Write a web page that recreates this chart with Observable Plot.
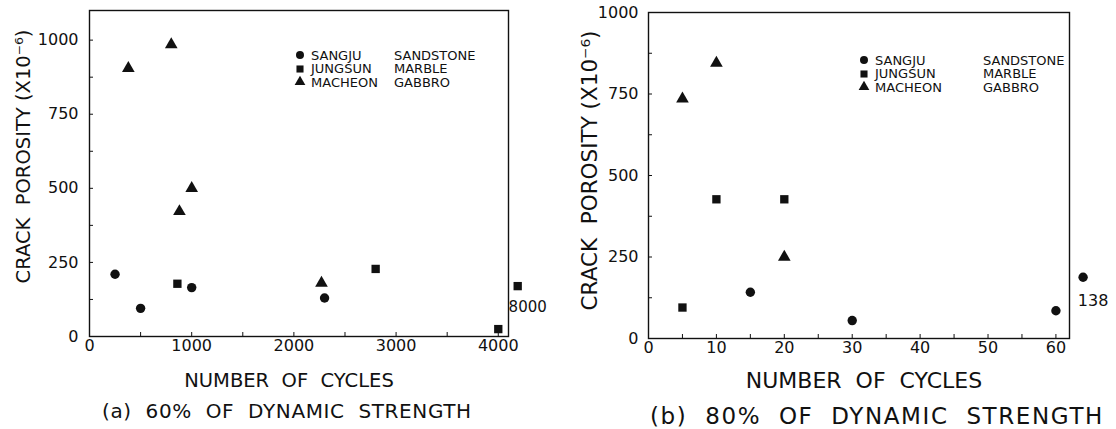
<!DOCTYPE html>
<html><head><meta charset="utf-8">
<script src="https://cdn.jsdelivr.net/npm/d3@7"></script>
<script src="https://cdn.jsdelivr.net/npm/@observablehq/plot@0.6"></script>
<style>
body{margin:0;background:#fff;}
#wrap{position:relative;width:1116px;height:429px;overflow:hidden;font-family:"DejaVu Sans",sans-serif;color:#111;background:#fff;}
.panel{position:absolute;top:0;}
.caption{position:absolute;white-space:pre;}
.legend{position:absolute;white-space:pre;}
.legend .row{position:absolute;left:0;}
.legend .row span{position:absolute;top:0;}
.legend svg{position:absolute;overflow:visible;}
</style></head><body><div id="wrap"></div>
<script>
// ---- series ----
const seriesNames = ["SANGJU SANDSTONE", "JUNGSUN MARBLE", "MACHEON GABBRO"];
const seriesFirst = ["SANGJU", "JUNGSUN", "MACHEON"];
const seriesSecond = ["SANDSTONE", "MARBLE", "GABBRO"];
const seriesSymbols = ["circle", "square", "triangle"];

// ---- panel (a): 60% of dynamic strength ----
const aSandstoneCycles = [250, 500, 1000, 2300];
const aSandstonePorosity = [210, 95, 165, 130];
const aMarbleCycles = [860, 2800, 4000];
const aMarblePorosity = [178, 228, 25];
const aGabbroCycles = [380, 800, 880, 1000, 2270];
const aGabbroPorosity = [905, 985, 422, 500, 180];
// value beyond the axis break (8000 cycles), drawn just past the frame
const aBreakSeries = "JUNGSUN MARBLE";
const aBreakLabel = "8000";
const aBreakPosition = 4190;
const aBreakPorosity = 170;
const aXDomain = [0, 4100];
const aYDomain = [0, 1100];
const aXTicks = [0, 500, 1000, 1500, 2000, 2500, 3000, 3500, 4000];
const aXLabels = [0, 1000, 2000, 3000, 4000];
const aYTicks = [0, 125, 250, 375, 500, 625, 750, 875, 1000];
const aYLabels = [0, 250, 500, 750, 1000];
const aCaption = "(a)  60%  OF  DYNAMIC  STRENGTH";

// ---- panel (b): 80% of dynamic strength ----
const bSandstoneCycles = [15, 30, 60];
const bSandstonePorosity = [142, 55, 85];
const bMarbleCycles = [5, 10, 20];
const bMarblePorosity = [95, 427, 427];
const bGabbroCycles = [5, 10, 20];
const bGabbroPorosity = [735, 845, 250];
const bBreakSeries = "SANGJU SANDSTONE";
const bBreakLabel = "138";
const bBreakPosition = 64;
const bBreakPorosity = 188;
const bXDomain = [0, 62];
const bYDomain = [0, 1000];
const bXTicks = [0, 5, 10, 15, 20, 25, 30, 35, 40, 45, 50, 55, 60];
const bXLabels = [0, 10, 20, 30, 40, 50, 60];
const bYTicks = [0, 125, 250, 375, 500, 625, 750, 875, 1000];
const bYLabels = [0, 250, 500, 750, 1000];
const bCaption = "(b)  80%  OF  DYNAMIC  STRENGTH";

const xLabel = "NUMBER  OF  CYCLES";
const yLabel = "CRACK  POROSITY (X10⁻⁶)";

function rows(series, cycles, porosity) {
  return cycles.map((c, i) => ({series, cycles: c, porosity: porosity[i]}));
}

const ink = "#111";
const font = "DejaVu Sans";

function panel(cfg) {
  const data = [
    ...rows(seriesNames[0], cfg.sc, cfg.sp),
    ...rows(seriesNames[1], cfg.mc, cfg.mp),
    ...rows(seriesNames[2], cfg.gc, cfg.gp)
  ];
  const brk = [{series: cfg.breakSeries, cycles: cfg.breakPosition, porosity: cfg.breakPorosity, label: cfg.breakLabel}];
  const fmt = d => String(d);
  return Plot.plot({
    width: 558, height: 395,
    marginLeft: cfg.ml, marginRight: cfg.mr, marginTop: cfg.mt, marginBottom: cfg.mb,
    x: {domain: cfg.xDomain},
    y: {domain: cfg.yDomain},
    symbol: {domain: seriesNames, range: seriesSymbols},
    style: {fontFamily: font, fontSize: "16px", color: ink, background: "white", overflow: "visible"},
    marks: [
      Plot.frame({stroke: ink, strokeWidth: 1.4}),
      Plot.axisX(cfg.xTicks, {tickSize: -4, fill: "none", label: null, stroke: ink}),
      Plot.axisX(cfg.xLabels, {tickSize: 0, tickPadding: 3, label: null, fontSize: 16, fill: ink, tickFormat: fmt}),
      Plot.axisY(cfg.yTicks, {tickSize: -4, fill: "none", label: null, stroke: ink}),
      Plot.axisY(cfg.yLabels, {tickSize: 0, tickPadding: cfg.ypad, label: null, fontSize: 16, fill: ink, tickFormat: fmt}),
      Plot.dot(data, {x: "cycles", y: "porosity", symbol: "series", fill: ink, stroke: "none", r: 4.7}),
      Plot.dot(brk, {x: "cycles", y: "porosity", symbol: "series", fill: ink, stroke: "none", r: 4.7}),
      Plot.text(brk, {x: "cycles", y: "porosity", text: "label", dx: cfg.brkDx, dy: cfg.brkDy, fontSize: cfg.brkFont, fill: ink}),
      Plot.text([xLabel], {frameAnchor: "bottom", textAnchor: "middle", lineAnchor: "middle", dx: cfg.xlabDx, dy: cfg.xlabDy, fontSize: cfg.xlabFont, fill: ink}),
      Plot.text([yLabel], {frameAnchor: "left", textAnchor: "middle", lineAnchor: "middle", rotate: -90, dx: cfg.ylabDx, dy: cfg.ylabDy, fontSize: cfg.ylabFont, fill: ink})
    ]
  });
}

const wrap = document.getElementById("wrap");

const left = panel({
  sc: aSandstoneCycles, sp: aSandstonePorosity, mc: aMarbleCycles, mp: aMarblePorosity,
  gc: aGabbroCycles, gp: aGabbroPorosity,
  breakSeries: aBreakSeries, breakLabel: aBreakLabel, breakPosition: aBreakPosition, breakPorosity: aBreakPorosity,
  xDomain: aXDomain, yDomain: aYDomain, xTicks: aXTicks, xLabels: aXLabels, yTicks: aYTicks, yLabels: aYLabels,
  ml: 89, mr: 50, mt: 10, mb: 59, ypad: 11,
  brkDx: 10, brkDy: 21, brkFont: 15,
  xlabDx: -10, xlabDy: 44, xlabFont: 19.5,
  ylabDx: -66, ylabDy: -17, ylabFont: 19.5
});
left.classList.add("panel"); left.style.left = "0px";
wrap.appendChild(left);

const right = panel({
  sc: bSandstoneCycles, sp: bSandstonePorosity, mc: bMarbleCycles, mp: bMarblePorosity,
  gc: bGabbroCycles, gp: bGabbroPorosity,
  breakSeries: bBreakSeries, breakLabel: bBreakLabel, breakPosition: bBreakPosition, breakPorosity: bBreakPorosity,
  xDomain: bXDomain, yDomain: bYDomain, xTicks: bXTicks, xLabels: bXLabels, yTicks: bYTicks, yLabels: bYLabels,
  ml: 90, mr: 47, mt: 12, mb: 57, ypad: 10,
  brkDx: 10, brkDy: 24, brkFont: 16,
  xlabDx: 5, xlabDy: 42, xlabFont: 22,
  ylabDx: -58, ylabDy: -5, ylabFont: 21.5
});
right.classList.add("panel"); right.style.left = "558px";
wrap.appendChild(right);

// captions
function caption(text, x, yCenter, size, spacing) {
  const d = document.createElement("div");
  d.className = "caption"; d.textContent = text;
  d.style.fontSize = size + "px"; d.style.lineHeight = size + "px";
  d.style.letterSpacing = spacing + "px";
  d.style.left = x + "px"; d.style.top = (yCenter - size / 2) + "px";
  wrap.appendChild(d);
}
caption(aCaption, 102, 411, 20, 0.6);
caption(bCaption, 650, 416, 23, 1.6);

// legends
function legend(x, yCenter, fontSize, col2, rowGap, spacing) {
  const box = document.createElement("div");
  box.className = "legend";
  box.style.left = x + "px"; box.style.top = (yCenter - fontSize / 2) + "px";
  box.style.fontSize = fontSize + "px"; box.style.lineHeight = fontSize + "px";
  box.style.letterSpacing = spacing + "px";
  seriesNames.forEach((name, i) => {
    const row = document.createElement("div");
    row.className = "row"; row.style.top = (i * rowGap) + "px"; row.style.height = fontSize + "px";
    const svg = d3.create("svg").attr("width", 10).attr("height", 10)
      .style("left", "-16px").style("top", (fontSize / 2 - 5) + "px");
    const sym = {circle: d3.symbolCircle, square: d3.symbolSquare, triangle: d3.symbolTriangle}[seriesSymbols[i]];
    svg.append("path").attr("transform", "translate(5,5)")
      .attr("d", d3.symbol(sym, 50)()).attr("fill", ink);
    row.appendChild(svg.node());
    const s1 = document.createElement("span"); s1.textContent = seriesFirst[i]; s1.style.left = "0px";
    const s2 = document.createElement("span"); s2.textContent = seriesSecond[i]; s2.style.left = col2 + "px";
    row.appendChild(s1); row.appendChild(s2);
    box.appendChild(row);
  });
  wrap.appendChild(box);
}
legend(311, 55, 13, 83, 13.5, 0);
legend(875, 60, 13, 108, 13.5, 0);
</script>
</body></html>
